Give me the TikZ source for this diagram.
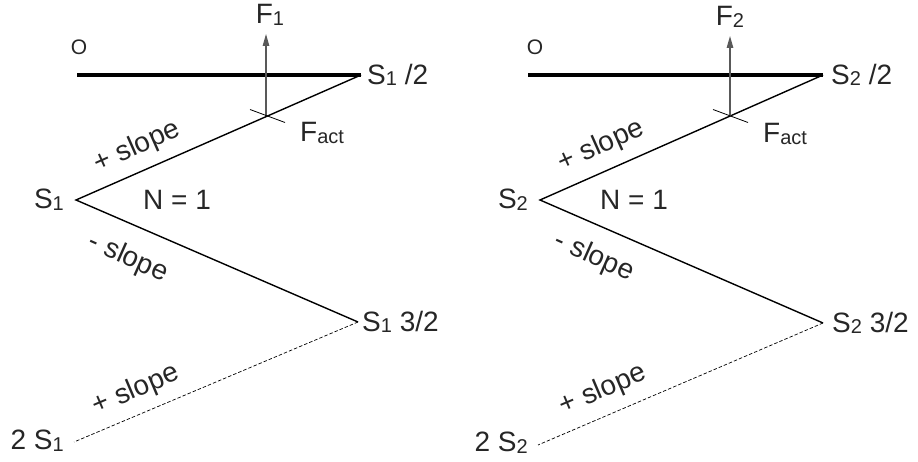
\documentclass[tikz,border=0pt]{standalone}
\usepackage{fontspec}
\setmainfont{Liberation Sans}
\usetikzlibrary{arrows.meta}
\newcommand\sbs[1]{\raisebox{-0.06em}{\fontsize{20}{20}\selectfont #1}}
\tikzset{
  lbl/.style={inner sep=0pt, text=black!85},
  bar/.style={line width=3.6pt},
  leg/.style={line width=1.4pt},
  back/.style={line width=0.7pt, dash pattern=on 3.5pt off 2pt},
  force/.style={line width=1.2pt, black!65, -{Triangle[length=12pt,width=6.5pt]}},
  tick/.style={line width=0.8pt}
}
\begin{document}
\begin{tikzpicture}[x=1pt, y=-1pt, font=\fontsize{28}{32}\selectfont]
  \useasboundingbox (0,0) rectangle (918,462);
  % left
  \coordinate (o1) at (77,75);
  \coordinate (h1) at (361,75);
  \coordinate (a1) at (76,200);
  \coordinate (f1) at (266,116.5);
  \coordinate (p1) at (266,34);
  \coordinate (t1) at (358,322);
  \coordinate (e1) at (74,442);
  \draw[bar] (o1) -- (h1);
  \draw[leg, line join=miter] (h1) -- (a1) -- (t1);
  \draw[back] (t1) -- (e1);
  \draw[force] (f1) -- (p1);
  \draw[tick] ([shift={(-16,-7)}]f1) -- ([shift={(19,6)}]f1);
  \node[lbl] (lo1) at (79,47) {\fontsize{21}{21}\selectfont O};
  \node[lbl] (lf1) at (270,15) {F\sbs{1}};
  \node[lbl, anchor=west] (lh1) at (367,75) {S\sbs{1} /2};
  \node[lbl, anchor=west] (lact1) at (300,133) {F\sbs{act}};
  \node[lbl, anchor=east] (la1) at (64,200) {S\sbs{1}};
  \node[lbl] (ln1) at (177,200) {N = 1};
  \node[lbl, anchor=west] (lt1) at (362,322) {S\sbs{1} 3/2};
  \node[lbl, anchor=east] (le1) at (64,441) {2 S\sbs{1}};
  \node[lbl, rotate=24] (lup1) at (137,147) {+ slope};
  \node[lbl, rotate=-24] (ldn1) at (128,258) {- slope};
  \node[lbl, rotate=23] (lbk1) at (136,390) {+ slope};
  % right
  \coordinate (o2) at (528,75);
  \coordinate (h2) at (823,75);
  \coordinate (a2) at (540,200);
  \coordinate (f2) at (730,116.5);
  \coordinate (p2) at (730,36);
  \coordinate (t2) at (823,323);
  \coordinate (e2) at (538,445);
  \draw[bar] (o2) -- (h2);
  \draw[leg, line join=miter] (h2) -- (a2) -- (t2);
  \draw[back] (t2) -- (e2);
  \draw[force] (f2) -- (p2);
  \draw[tick] ([shift={(-17,-7)}]f2) -- ([shift={(18,6)}]f2);
  \node[lbl] (lo2) at (535,47) {\fontsize{21}{21}\selectfont O};
  \node[lbl] (lf2) at (730,17) {F\sbs{2}};
  \node[lbl, anchor=west] (lh2) at (831,75) {S\sbs{2} /2};
  \node[lbl, anchor=west] (lact2) at (763,134) {F\sbs{act}};
  \node[lbl, anchor=east] (la2) at (528,200) {S\sbs{2}};
  \node[lbl] (ln2) at (634,200) {N = 1};
  \node[lbl, anchor=west] (lt2) at (832,323) {S\sbs{2} 3/2};
  \node[lbl, anchor=east] (le2) at (528,443) {2 S\sbs{2}};
  \node[lbl, rotate=24] (lup2) at (601,146) {+ slope};
  \node[lbl, rotate=-24] (ldn2) at (594,257) {- slope};
  \node[lbl, rotate=23] (lbk2) at (603,390) {+ slope};
\end{tikzpicture}
\end{document}
